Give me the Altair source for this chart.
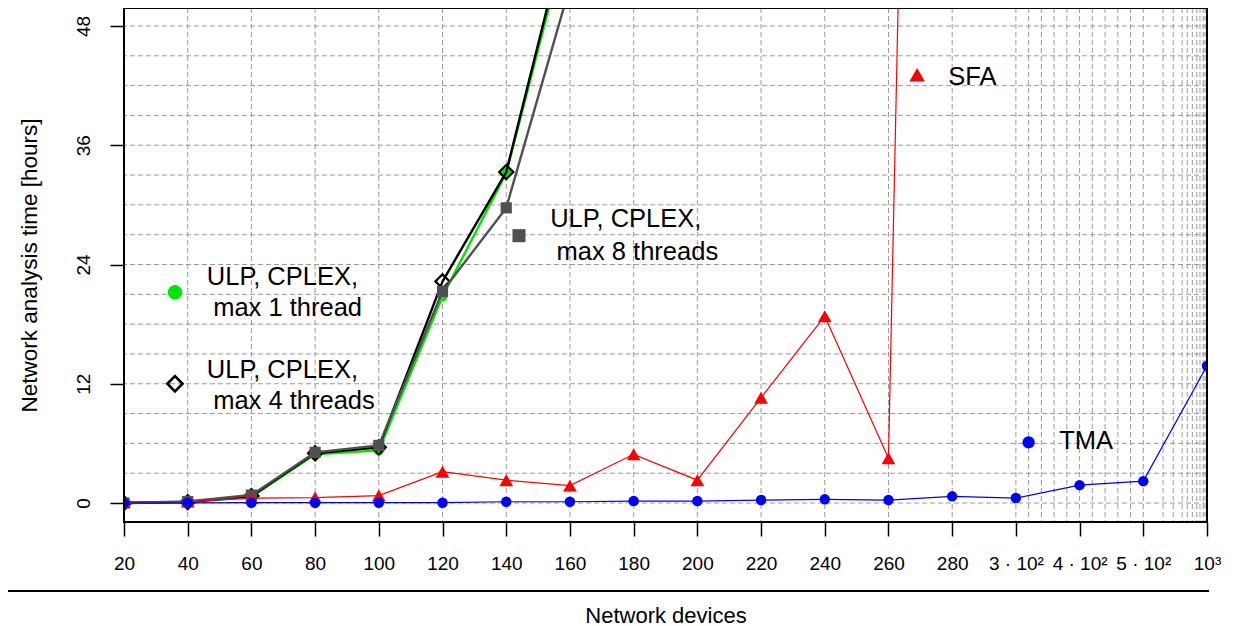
import json
import altair as alt
import pandas as pd

# ---- data ----
x_labels = ["20", "40", "60", "80", "100", "120", "140", "160", "180", "200",
            "220", "240", "260", "280", "3 · 10²", "4 · 10²", "5 · 10²", "10³"]
x_index = list(range(len(x_labels)))

tma = [0.0, 0.02, 0.03, 0.03, 0.03, 0.03, 0.13, 0.13, 0.2, 0.2,
       0.3, 0.37, 0.3, 0.67, 0.5, 1.8, 2.2, 13.8]
sfa = [0.1, 0.15, 0.5, 0.55, 0.75, 3.15, 2.3, 1.75, 4.9, 2.3,
       10.6, 18.8, 4.5, 306.0]
ulp1 = [0.0, 0.1, 0.6, 4.9, 5.3, 20.8, 33.2, 58.0]
ulp4 = [0.0, 0.1, 0.7, 5.0, 5.6, 22.3, 33.3, 59.0]
ulp8 = [0.0, 0.15, 0.8, 5.1, 5.8, 21.3, 29.7, 52.0]

y_ticks = [0, 12, 24, 36, 48]
grid_y = list(range(0, 49, 3))
grid_x = (list(range(1, 17))
          + [14.2, 14.4, 14.6, 14.8, 15.2, 15.4, 15.6, 15.8]
          + [16.31, 16.47, 16.61, 16.69, 16.77, 16.84, 16.89, 16.94, 16.97])

# legend entries drawn inside the plot (data units)
leg_markers = {
    "ulp1": (0.80, 21.2), "ulp4": (0.80, 12.0), "ulp8": (6.2, 26.9),
    "sfa": (12.45, 43.1), "tma": (14.2, 6.1),
}
leg_text = pd.DataFrame({
    "x": [1.30, 1.40, 1.30, 1.40, 6.69, 6.79, 12.94, 14.68],
    "y": [22.7, 19.6, 13.4, 10.3, 28.6, 25.3, 42.9, 6.2],
    "t": ["ULP, CPLEX,", "max 1 thread", "ULP, CPLEX,", "max 4 threads",
          "ULP, CPLEX,", "max 8 threads", "SFA", "TMA"],
})

FONT = "Liberation Sans"
label_expr = json.dumps(x_labels, ensure_ascii=False) + "[round(datum.value)]"

xscale = alt.Scale(domain=[0, 17], nice=False, zero=False)
yscale = alt.Scale(domain=[-1.91, 49.81], nice=False, zero=False)

xaxis = alt.Axis(values=x_index, labelExpr=label_expr, grid=False, domain=False,
                 tickSize=14, tickColor="black", tickWidth=1.5,
                 labelFontSize=19, labelColor="black", labelFont=FONT,
                 labelPadding=18, labelFlush=False, labelOverlap=False,
                 title="Network devices", titleFontSize=22, titleFont=FONT,
                 titleFontWeight="normal", titleColor="black", titlePadding=32)
yaxis = alt.Axis(values=y_ticks, grid=False, domain=False,
                 tickSize=14, tickColor="black", tickWidth=1.5,
                 labelFontSize=19, labelColor="black", labelFont=FONT,
                 labelAngle=270, labelAlign="center", labelBaseline="bottom",
                 labelPadding=17, labelFlush=False, labelOverlap=False,
                 title="Network analysis time [hours]", titleFontSize=22.5,
                 titleFont=FONT, titleFontWeight="normal", titleColor="black",
                 titlePadding=33)

X = alt.X("x:Q", scale=xscale, axis=xaxis)
Y = alt.Y("y:Q", scale=yscale, axis=yaxis)

layers = []
layers.append(alt.Chart(pd.DataFrame({"x": grid_x})).mark_rule(
    color="#9a9a9a", strokeDash=[5, 3], strokeWidth=1).encode(x=X))
layers.append(alt.Chart(pd.DataFrame({"y": grid_y})).mark_rule(
    color="#9a9a9a", strokeDash=[5, 3], strokeWidth=1).encode(y=Y))


def series(vals, color, width, shape, size, filled, stroke_w=1):
    df = pd.DataFrame({"x": x_index[:len(vals)], "y": vals})
    line = alt.Chart(df).mark_line(color=color, strokeWidth=width, clip=True).encode(x=X, y=Y)
    pts = alt.Chart(df).mark_point(shape=shape, size=size, filled=filled, color=color,
                                   opacity=1, strokeWidth=stroke_w, clip=True).encode(x=X, y=Y)
    return [line, pts]


layers += series(ulp1, "#00e600", 2.4, "circle", 110, True)
layers += series(ulp4, "#000000", 2.4, "diamond", 200, False, 2.2)
layers += series(ulp8, "#505050", 2.4, "square", 125, True)
layers += series(sfa, "#ff0000", 1.2, "triangle-up", 190, True)
layers += series(tma, "#0000ff", 1.2, "circle", 110, True)


def leg_point(key, color, shape, size, filled, stroke_w=1):
    x, y = leg_markers[key]
    return alt.Chart(pd.DataFrame({"x": [x], "y": [y]})).mark_point(
        shape=shape, size=size, filled=filled, color=color, opacity=1,
        strokeWidth=stroke_w).encode(x=X, y=Y)


layers += [
    leg_point("ulp1", "#00e600", "circle", 210, True),
    leg_point("ulp4", "#000000", "diamond", 230, False, 2.6),
    leg_point("ulp8", "#505050", "square", 170, True),
    leg_point("sfa", "#ff0000", "triangle-up", 240, True),
    leg_point("tma", "#0000ff", "circle", 150, True),
]
layers.append(alt.Chart(leg_text).mark_text(
    align="left", baseline="middle", fontSize=25.5, font=FONT, color="black").encode(
    x=X, y=Y, text="t:N"))

# plot frame drawn on top of the grid
layers.append(alt.Chart(pd.DataFrame({"a": [0]})).mark_rect(
    fill=None, stroke="black", strokeWidth=2, clip=False).encode(
    x=alt.value(0), x2=alt.value(1083), y=alt.value(0), y2=alt.value(514)))

# separator line under the tick labels
layers.append(alt.Chart(pd.DataFrame({"a": [0]})).mark_rule(
    color="black", strokeWidth=2, clip=False).encode(
    x=alt.value(-124), x2=alt.value(1085), y=alt.value(583)))

chart = alt.layer(*layers).properties(
    width=1083, height=514,
    padding={"left": 116, "top": 0, "right": 20, "bottom": 110},
    autosize=alt.AutoSizeParams(type="none"),
).configure(font=FONT).configure_view(stroke=None)

chart.save("out.html", embed_options={"renderer": "svg", "actions": False})
